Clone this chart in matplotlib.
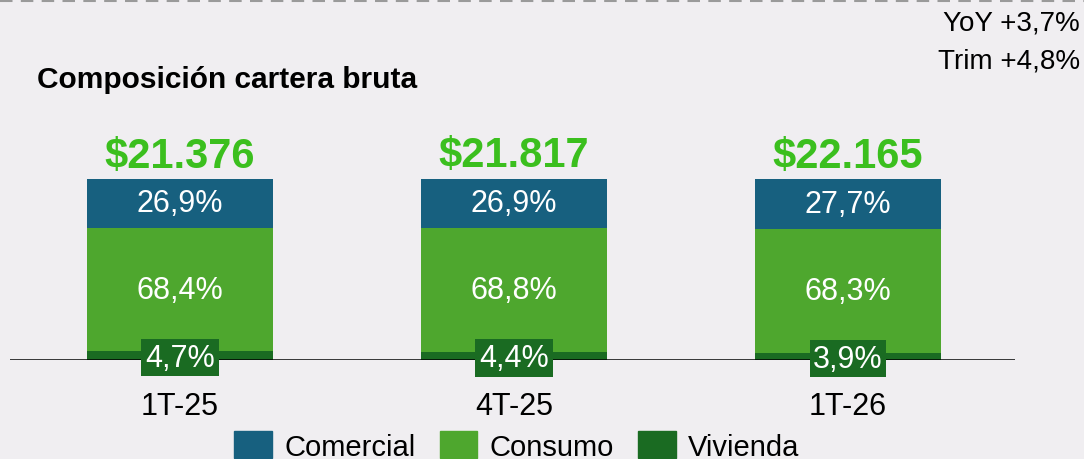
import matplotlib as mpl
import matplotlib.pyplot as plt
from matplotlib.lines import Line2D
from matplotlib.patches import Patch

mpl.use('Agg')

periods = ["1T-25", "4T-25", "1T-26"]
totals = ["$21.376", "$21.817", "$22.165"]
vivienda = [4.7, 4.4, 3.9]
consumo = [68.4, 68.8, 68.3]
comercial = [26.9, 26.9, 27.7]
growth = ["YoY +3,7%", "Trim +4,8%"]

bg = "#F0EEF1"
c_com = "#17607F"
c_con = "#4EA72E"
c_viv = "#1A6B22"
c_tot = "#3BBF1E"

plt.rcParams['font.family'] = ['Liberation Sans', 'DejaVu Sans']

W, H = 1084, 460
fig = plt.figure(figsize=(W / 100, H / 100), dpi=100, facecolor=bg)
ax = fig.add_axes([10 / W, 99 / H, 1005 / W, 261 / H])
ax.set_facecolor(bg)

x = list(range(len(periods)))
width = 0.554
bottom2 = [v + c for v, c in zip(vivienda, consumo)]
ax.bar(x, vivienda, width, color=c_viv, label="Vivienda")
ax.bar(x, consumo, width, bottom=vivienda, color=c_con, label="Consumo")
ax.bar(x, comercial, width, bottom=bottom2, color=c_com, label="Comercial")

for i in x:
    ax.text(i, bottom2[i] + comercial[i] / 2, f"{comercial[i]:.1f}%".replace(".", ","),
            ha='center', va='center', color='white', fontsize=22)
    ax.text(i, vivienda[i] + consumo[i] / 2, f"{consumo[i]:.1f}%".replace(".", ","),
            ha='center', va='center', color='white', fontsize=22)
    ax.annotate(f"{vivienda[i]:.1f}%".replace(".", ","), (i, vivienda[i] / 2),
                xytext=(0, -1.5), textcoords='offset points',
                ha='center', va='center', color='white', fontsize=22,
                bbox=dict(boxstyle='square,pad=0.12', facecolor=c_viv, edgecolor='none'))
    top = bottom2[i] + comercial[i]
    ax.annotate(totals[i], (i, top), xytext=(0, 9), textcoords='offset points',
                ha='center', va='baseline', color=c_tot, fontsize=30, fontweight='bold')

ax.set_xlim(-0.509, 2.5)
ax.set_ylim(0, 144.2)
ax.axhline(0, color='black', lw=1.8, zorder=1)
for s in ax.spines.values():
    s.set_visible(False)
ax.set_yticks([])
ax.set_xticks(x)
ax.set_xticklabels(periods, fontsize=22)
ax.tick_params(axis='x', length=0, pad=22)

fig.text(37 / W, 1 - 88 / H, "Composición cartera bruta", fontsize=21.5,
         fontweight='bold', va='baseline', ha='left')
fig.text(1080 / W, 1 - 23 / H, growth[0], fontsize=20, ha='right', va='center')
fig.text(1080 / W, 1 - 62 / H, growth[1], fontsize=20, ha='right', va='center')

fig.add_artist(Line2D([0, 1], [1 - 2 / H] * 2, transform=fig.transFigure,
                      color='#9a9a9a', lw=1.5, ls=(0, (6, 4))))

handles = [Patch(color=c_com), Patch(color=c_con), Patch(color=c_viv)]
fig.legend(handles, ["Comercial", "Consumo", "Vivienda"], loc='center',
           bbox_to_anchor=(517 / W, 13 / H), ncol=3, frameon=False, fontsize=21,
           handlelength=1.3, handleheight=1.03, handletextpad=0.43,
           columnspacing=0.8)

fig.savefig("out.png", dpi=100, facecolor=bg)
plt.close()
